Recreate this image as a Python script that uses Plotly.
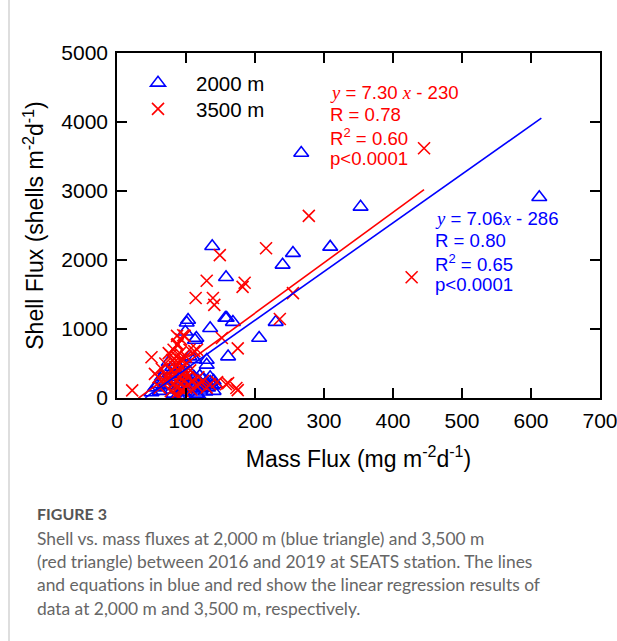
import plotly.graph_objects as go

# ---------------- data ----------------
blue_x = [267, 612, 353, 309, 255, 240, 138, 158, 159, 168, 230, 206, 101, 135, 115, 161,
          103, 113, 157, 130, 135, 130,
          50, 55, 60, 62, 65, 68, 70, 72, 75, 78, 80, 80, 82, 85, 88, 90, 92, 95, 95, 98,
          100, 102, 105, 105, 108, 110, 112, 115, 115, 118, 120, 120, 122, 125, 125, 128,
          130, 132, 135, 138, 140, 140, 142, 118, 88, 100, 112, 105, 95, 99]
blue_y = [3550, 2910, 2770, 2190, 2100, 1930, 2200, 1750, 1160, 1100, 1100, 870, 1090, 1010, 870, 600,
          1130, 840, 1160, 550, 230, 480,
          80, 150, 200, 100, 300, 250, 400, 180, 520, 350, 120, 450, 60, 250, 300, 180, 420, 80, 350, 200,
          150, 280, 90, 380, 220, 140, 300, 180, 60, 250, 120, 320, 200, 150, 280, 90,
          220, 150, 300, 180, 250, 100, 200, 40, 40, 30, 560, 600, 500, 960]

red_x = [22, 50, 55, 60, 62, 65, 68, 70, 72, 75, 75, 78, 78, 80, 80, 82, 82, 84, 85, 85,
         86, 87, 88, 88, 89, 90, 90, 90, 91, 92, 93, 94, 95, 95, 96, 97, 98, 99, 100, 100,
         102, 104, 105, 106, 108, 110, 112, 115, 118, 120, 125, 130, 135, 87, 96, 87, 116,
         145, 161, 175, 158, 173, 152, 175, 130, 114, 139, 141, 182, 185, 149, 216, 255,
         236, 278, 445, 427, 83, 92, 100, 78, 70, 94]
red_y = [110, 590, 350, 300, 150, 420, 200, 500, 320, 250, 650, 100, 400, 550, 300, 200, 700, 450, 350, 50,
         600, 250, 780, 150, 400, 500, 300, 20, 650, 200, 850, 350, 100, 450, 550, 250, 900, 380, 150, 600,
         300, 200, 700, 400, 120, 250, 680, 180, 300, 200, 250, 150, 200, 900, 910, 770, 700,
         230, 215, 115, 200, 145, 870, 720, 1700, 1450, 1450, 1350, 1610, 1670, 2070, 2170, 1520,
         1145, 2640, 3620, 1750, 520, 560, 330, 620, 240, 120]

# regression results
blue_slope, blue_icpt = 7.06, -286
red_slope, red_icpt = 7.30, -230
blue_fit_x = [41, 615]
red_fit_x = [31, 445]

x_ticks = [0, 100, 200, 300, 400, 500, 600, 700]
y_ticks = [0, 1000, 2000, 3000, 4000, 5000]

BLUE = "#0000FF"
RED = "#FF0000"

# plot area in pixels
L, R, T, B = 117, 600, 53, 398
W, H = 617, 641


def px(x):
    return (x - L) / (R - L)


def py(y):
    return (B - y) / (B - T)


fig = go.Figure()
fig.add_trace(go.Scatter(
    x=blue_x, y=blue_y, mode="markers", name="2000 m", legend="legend",
    marker=dict(symbol="triangle-up-open", size=13, color=BLUE, line=dict(width=1.6, color=BLUE))))
fig.add_trace(go.Scatter(
    x=red_x, y=red_y, mode="markers", name="3500 m", legend="legend2",
    marker=dict(symbol="x-thin-open", size=12, color=RED, line=dict(width=1.6, color=RED))))
fig.add_trace(go.Scatter(
    x=blue_fit_x, y=[blue_slope * v + blue_icpt for v in blue_fit_x], mode="lines",
    line=dict(color=BLUE, width=1.6), showlegend=False))
fig.add_trace(go.Scatter(
    x=red_fit_x, y=[red_slope * v + red_icpt for v in red_fit_x], mode="lines",
    line=dict(color=RED, width=1.6), showlegend=False))

axis_common = dict(
    showgrid=False, zeroline=False, showline=True, linecolor="black", linewidth=1.5,
    mirror="ticks", ticks="inside", ticklen=10, tickwidth=1.5, tickcolor="black",
    ticklabeloverflow="allow", automargin=False,
    tickfont=dict(family="Liberation Sans, Arial", size=21, color="black"),
)
fig.update_xaxes(range=[0, 700], tickvals=x_ticks, ticklabelstandoff=3,
                 title=dict(text="Mass Flux (mg m<sup>-2</sup>d<sup>-1</sup>)",
                            font=dict(family="Liberation Sans, Arial", size=23, color="black"),
                            standoff=20),
                 **axis_common)
fig.update_yaxes(range=[0, 5000], tickvals=y_ticks, ticklabelstandoff=3,
                 title=dict(text="Shell Flux (shells m<sup>-2</sup>d<sup>-1</sup>)",
                            font=dict(family="Liberation Sans, Arial", size=23, color="black"),
                            standoff=11),
                 **axis_common)

serif = "font-family:'Liberation Serif','Times New Roman'"
ann = []
red_lines = [f"<span style=\"{serif}\"><i>y</i></span> = 7.30 <span style=\"{serif}\"><i>x</i></span> - 230",
             "R = 0.78", "R<sup>2</sup> = 0.60", "p<0.0001"]
blue_lines = [f"<span style=\"{serif}\"><i>y</i></span> = 7.06<span style=\"{serif}\"><i>x</i></span> - 286",
              "R = 0.80", "R<sup>2</sup> = 0.65", "p<0.0001"]
for i, t in enumerate(red_lines):
    ann.append(dict(text=t, xref="paper", yref="paper", x=px(328), y=py(92 + 22.3 * i),
                    xanchor="left", yanchor="middle", showarrow=False,
                    font=dict(family="Liberation Sans, Arial", size=18.6, color=RED)))
for i, t in enumerate(blue_lines):
    ann.append(dict(text=t, xref="paper", yref="paper", x=px(433), y=py(218 + 22.3 * i),
                    xanchor="left", yanchor="middle", showarrow=False,
                    font=dict(family="Liberation Sans, Arial", size=18.6, color=BLUE)))

# caption
ann.append(dict(text="<b>FIGURE 3</b>", xref="paper", yref="paper", x=px(35), y=py(513),
                xanchor="left", yanchor="middle", showarrow=False,
                font=dict(family="Lato, Open Sans", size=16, color="#555555")))
caption = ["Shell vs. mass fluxes at 2,000 m (blue triangle) and 3,500 m",
           "(red triangle) between 2016 and 2019 at SEATS station. The lines",
           "and equations in blue and red show the linear regression results of",
           "data at 2,000 m and 3,500 m, respectively."]
for i, t in enumerate(caption):
    ann.append(dict(text=t, xref="paper", yref="paper", x=px(35), y=py(538 + 23.4 * i),
                    xanchor="left", yanchor="middle", showarrow=False,
                    font=dict(family="Lato, Open Sans", size=17.4, color="#666666")))

legend_common = dict(xanchor="left", yanchor="top", bgcolor="rgba(0,0,0,0)", itemwidth=66,
                     font=dict(family="Liberation Sans, Arial", size=20.5, color="black"))
fig.update_layout(
    width=W, height=H, autosize=False,
    margin=dict(l=L, r=W - R, t=T, b=H - B, autoexpand=False),
    paper_bgcolor="white", plot_bgcolor="white",
    annotations=ann,
    legend=dict(x=px(120), y=py(63), **legend_common),
    legend2=dict(x=px(120), y=py(89), **legend_common),
    shapes=[dict(type="line", xref="paper", yref="paper", x0=px(9), x1=px(9), y0=py(0), y1=py(641),
                 line=dict(color="#c8c8c8", width=1.2))],
)

fig.write_html("out.html")
